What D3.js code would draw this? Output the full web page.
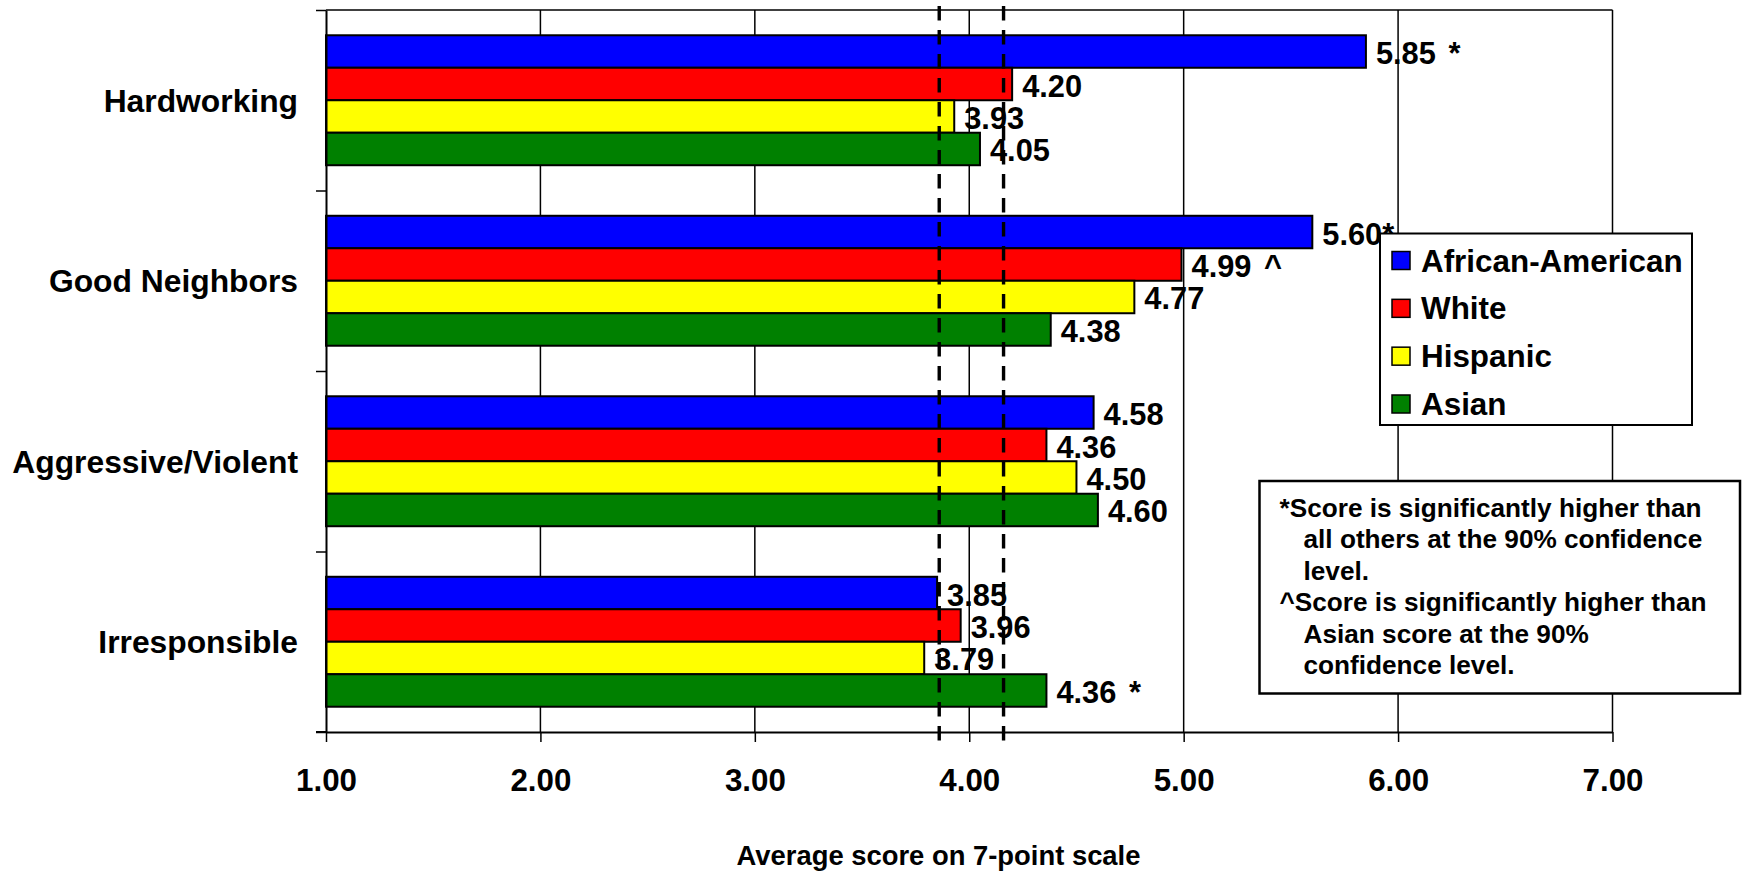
<!DOCTYPE html>
<html>
<head>
<meta charset="utf-8">
<script src="https://cdn.jsdelivr.net/npm/d3@7"></script>
<style>
  html, body { margin: 0; padding: 0; background: #fff; }
  svg { display: block; }
  text { font-family: "Liberation Sans", Arial, sans-serif; font-weight: bold; fill: #000; }
</style>
</head>
<body>
<svg id="chart" width="1745" height="871"></svg>
<script>
// ---- data ----
const categories = ["Hardworking", "Good Neighbors", "Aggressive/Violent", "Irresponsible"];
const seriesNames = ["African-American", "White", "Hispanic", "Asian"];
const seriesColors = ["#0000FF", "#FF0000", "#FFFF00", "#008000"];
const africanAmerican = [5.85, 5.60, 4.58, 3.85];
const white = [4.20, 4.99, 4.36, 3.96];
const hispanic = [3.93, 4.77, 4.50, 3.79];
const asian = [4.05, 4.38, 4.60, 4.36];
const africanAmericanMarks = [" *", "*", "", ""];
const whiteMarks = ["", " ^", "", ""];
const hispanicMarks = ["", "", "", ""];
const asianMarks = ["", "", "", " *"];
const xTicks = [1, 2, 3, 4, 5, 6, 7];
const referenceLines = [3.86, 4.16];
const xTitle = "Average score on 7-point scale";
const footnoteLines = [
  { text: "*Score is significantly higher than", indent: false },
  { text: "all others at the 90% confidence", indent: true },
  { text: "level.", indent: true },
  { text: "^Score is significantly higher than", indent: false },
  { text: "Asian score at the 90%", indent: true },
  { text: "confidence level.", indent: true }
];

const seriesValues = [africanAmerican, white, hispanic, asian];
const seriesMarks = [africanAmericanMarks, whiteMarks, hispanicMarks, asianMarks];

(function () {
// ---- layout ----
const svg = d3.select("#chart");
const pLeft = 326, pRight = 1612.5, pTop = 10, pBottom = 732;

const x = d3.scaleLinear().domain([1, 7]).range([pLeft, pRight]);
const y0 = d3.scaleBand().domain(categories).range([pTop, pBottom]).paddingInner(0.28).paddingOuter(0.14);
const y1 = d3.scaleBand().domain(seriesNames).range([0, y0.bandwidth()]);
const yIdx = d3.scaleLinear().domain([0, categories.length]).range([pTop, pBottom]);
const color = d3.scaleOrdinal().domain(seriesNames).range(seriesColors);

// gridlines (inner) + right border
svg.append("g").selectAll("line").data(xTicks.slice(1)).join("line")
  .attr("x1", d => x(d)).attr("x2", d => x(d))
  .attr("y1", pTop).attr("y2", pBottom)
  .attr("stroke", "#000").attr("stroke-width", 1.5);
// top border
svg.append("line").attr("x1", pLeft).attr("x2", pRight).attr("y1", pTop).attr("y2", pTop)
  .attr("stroke", "#000").attr("stroke-width", 1.5);

// bars
const rows = [];
categories.forEach((c, ci) => {
  seriesNames.forEach((s, si) => {
    rows.push({ cat: c, series: s, value: seriesValues[si][ci], mark: seriesMarks[si][ci] });
  });
});

svg.append("g").selectAll("rect").data(rows).join("rect")
  .attr("x", x(1))
  .attr("y", d => y0(d.cat) + y1(d.series))
  .attr("width", d => x(d.value) - x(1))
  .attr("height", y1.bandwidth())
  .attr("fill", d => color(d.series))
  .attr("stroke", "#000").attr("stroke-width", 2);

// left axis (category boundaries)
const yAxis = svg.append("g").attr("transform", `translate(${pLeft},0)`)
  .call(d3.axisLeft(yIdx).tickValues(d3.range(categories.length + 1)).tickFormat("").tickSize(10).tickSizeOuter(0));
yAxis.select(".domain").attr("stroke-width", 2);
yAxis.selectAll(".tick line").attr("stroke-width", 1.5);

// category labels
svg.append("g").selectAll("text").data(categories).join("text")
  .attr("x", 298)
  .attr("y", d => y0(d) + y0.bandwidth() / 2 + 11.3)
  .attr("text-anchor", "end")
  .style("font-size", "31.8px")
  .text(d => d);

// bottom axis
const xAxis = svg.append("g").attr("transform", `translate(0,${pBottom})`)
  .call(d3.axisBottom(x).tickValues(xTicks).tickFormat(d3.format(".2f")).tickSize(10).tickSizeOuter(0).tickPadding(27));
xAxis.select(".domain").attr("stroke-width", 2);
xAxis.selectAll(".tick line").attr("stroke-width", 1.5);
xAxis.selectAll(".tick text").style("font-size", "31.3px")
  .style("font-family", '"Liberation Sans", Arial, sans-serif').style("font-weight", "bold").attr("fill", "#000");
// extend axis line to left tick
svg.append("line").attr("x1", pLeft - 10).attr("x2", pLeft).attr("y1", pBottom).attr("y2", pBottom)
  .attr("stroke", "#000").attr("stroke-width", 2);

// value labels
svg.append("g").selectAll("text").data(rows).join("text")
  .attr("x", d => x(d.value) + 10)
  .attr("y", d => y0(d.cat) + y1(d.series) + y1.bandwidth() / 2 + 12.5)
  .style("font-size", "30.8px")
  .style("word-spacing", "4px")
  .text(d => d3.format(".2f")(d.value) + d.mark);

// reference dashed lines
svg.append("g").selectAll("line").data(referenceLines).join("line")
  .attr("x1", d => x(d)).attr("x2", d => x(d))
  .attr("y1", 6).attr("y2", 742)
  .attr("stroke", "#000").attr("stroke-width", 3.4)
  .attr("stroke-dasharray", "14.5 9.5");

// x title
svg.append("text")
  .attr("x", 938.5).attr("y", 865)
  .attr("text-anchor", "middle")
  .style("font-size", "27.4px")
  .text(xTitle);

// legend
const legend = svg.append("g");
legend.append("rect").attr("x", 1380).attr("y", 233.5).attr("width", 312).attr("height", 191.5)
  .attr("fill", "#fff").attr("stroke", "#000").attr("stroke-width", 2);
const legRow = d3.scalePoint().domain(seriesNames).range([260.5, 404]);
const li = legend.selectAll("g.item").data(seriesNames).join("g").attr("class", "item");
li.append("rect").attr("x", 1392).attr("y", d => legRow(d) - 9).attr("width", 18).attr("height", 18)
  .attr("fill", d => color(d)).attr("stroke", "#000").attr("stroke-width", 1.5);
li.append("text").attr("x", 1421).attr("y", d => legRow(d) + 11)
  .style("font-size", "31.4px").text(d => d);

// footnote box
const fn = svg.append("g");
fn.append("rect").attr("x", 1259.5).attr("y", 481).attr("width", 480.5).attr("height", 212.5)
  .attr("fill", "#fff").attr("stroke", "#000").attr("stroke-width", 2.5);
fn.selectAll("text").data(footnoteLines).join("text")
  .attr("x", d => d.indent ? 1303.5 : 1279.5)
  .attr("y", (d, i) => 516.7 + i * 31.5)
  .style("font-size", "26.2px")
  .text(d => d.text);
})();
</script>
</body>
</html>
